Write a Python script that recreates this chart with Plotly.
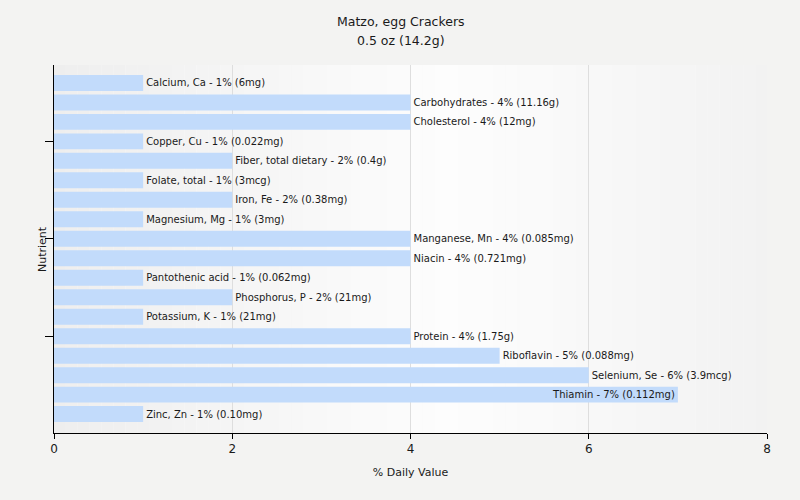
import plotly.graph_objects as go

nutrients = ["Calcium, Ca", "Carbohydrates", "Cholesterol", "Copper, Cu", "Fiber, total dietary",
             "Folate, total", "Iron, Fe", "Magnesium, Mg", "Manganese, Mn", "Niacin",
             "Pantothenic acid", "Phosphorus, P", "Potassium, K", "Protein", "Riboflavin",
             "Selenium, Se", "Thiamin", "Zinc, Zn"]
daily_value = [1, 4, 4, 1, 2, 1, 2, 1, 4, 4, 1, 2, 1, 4, 5, 6, 7, 1]
amounts = ["6mg", "11.16g", "12mg", "0.022mg", "0.4g", "3mcg", "0.38mg", "3mg", "0.085mg",
           "0.721mg", "0.062mg", "21mg", "21mg", "1.75g", "0.088mg", "3.9mcg", "0.112mg", "0.10mg"]
y_ticks = ["Copper, Cu", "Manganese, Mn", "Protein"]
x_ticks = [0, 2, 4, 6, 8]
title_lines = ["Matzo, egg Crackers", "0.5 oz (14.2g)"]

labels = [f"{n} - {v}% ({a})" for n, v, a in zip(nutrients, daily_value, amounts)]
positions = ["inside" if v >= 7 else "outside" for v in daily_value]

fig = go.Figure(go.Bar(
    x=daily_value, y=nutrients, orientation="h",
    marker=dict(color="#c2dbfb", line=dict(width=0)),
    width=0.82,
    text=labels, textposition=positions, insidetextanchor="end",
    textfont=dict(family="DejaVu Sans", size=10, color="#1a1a1a"),
    cliponaxis=False, hoverinfo="skip",
))

# background gradient of the plot area (styling only)
shapes = []
n = 60
def shade(t):
    if t < 0.55:
        c = 238 + (253 - 238) * (t / 0.55)
    else:
        c = 253 - (253 - 242) * ((t - 0.55) / 0.45)
    c = int(round(c))
    return f"rgb({c},{c},{c})"
for i in range(n):
    x0 = 8 * i / n
    x1 = 8 * (i + 1) / n
    shapes.append(dict(type="rect", xref="x", yref="paper", x0=x0, x1=x1, y0=0, y1=1,
                       fillcolor=shade((i + 0.5) / n), line=dict(width=0), layer="below"))

plot_h = 368
annotations = [
    dict(text=title_lines[0], xref="paper", yref="paper", x=0.487, y=(433 - 22) / plot_h,
         showarrow=False, xanchor="center", yanchor="middle", font=dict(size=12.5)),
    dict(text=title_lines[1], xref="paper", yref="paper", x=0.487, y=(433 - 40) / plot_h,
         showarrow=False, xanchor="center", yanchor="middle", font=dict(size=12.5)),
    dict(text="Nutrient", xref="paper", yref="paper", x=-12 / 713, y=0.5,
         textangle=-90, showarrow=False, xanchor="center", yanchor="middle",
         font=dict(size=11)),
]

fig.update_layout(
    width=800, height=500,
    margin=dict(l=54, r=33, t=65, b=67, autoexpand=False),
    paper_bgcolor="#f3f3f2", plot_bgcolor="#f9f9f9",
    font=dict(family="DejaVu Sans", size=11, color="#1a1a1a"),
    showlegend=False,
    shapes=shapes,
    uniformtext=dict(minsize=10, mode="show"),
    annotations=annotations,
)
fig.update_xaxes(range=[0, 8], tickvals=x_ticks, showgrid=True, gridcolor="#dedede",
                 showline=True, linecolor="black", linewidth=1, ticks="outside", ticklen=5,
                 tickcolor="black", zeroline=False, automargin=False,
                 title=dict(text="% Daily Value", font=dict(size=11), standoff=12),
                 tickfont=dict(size=12))
fig.update_yaxes(type="category", categoryorder="array", categoryarray=nutrients,
                 range=[17.97, -0.92], tickvals=y_ticks, ticktext=["", "", ""], showgrid=False,
                 showline=True, linecolor="black", linewidth=1, ticks="outside", ticklen=8,
                 tickcolor="black", automargin=False)

fig.write_html("out.html", config={"displayModeBar": False},
               post_script="document.body.style.margin='0';document.body.style.padding='0';")
